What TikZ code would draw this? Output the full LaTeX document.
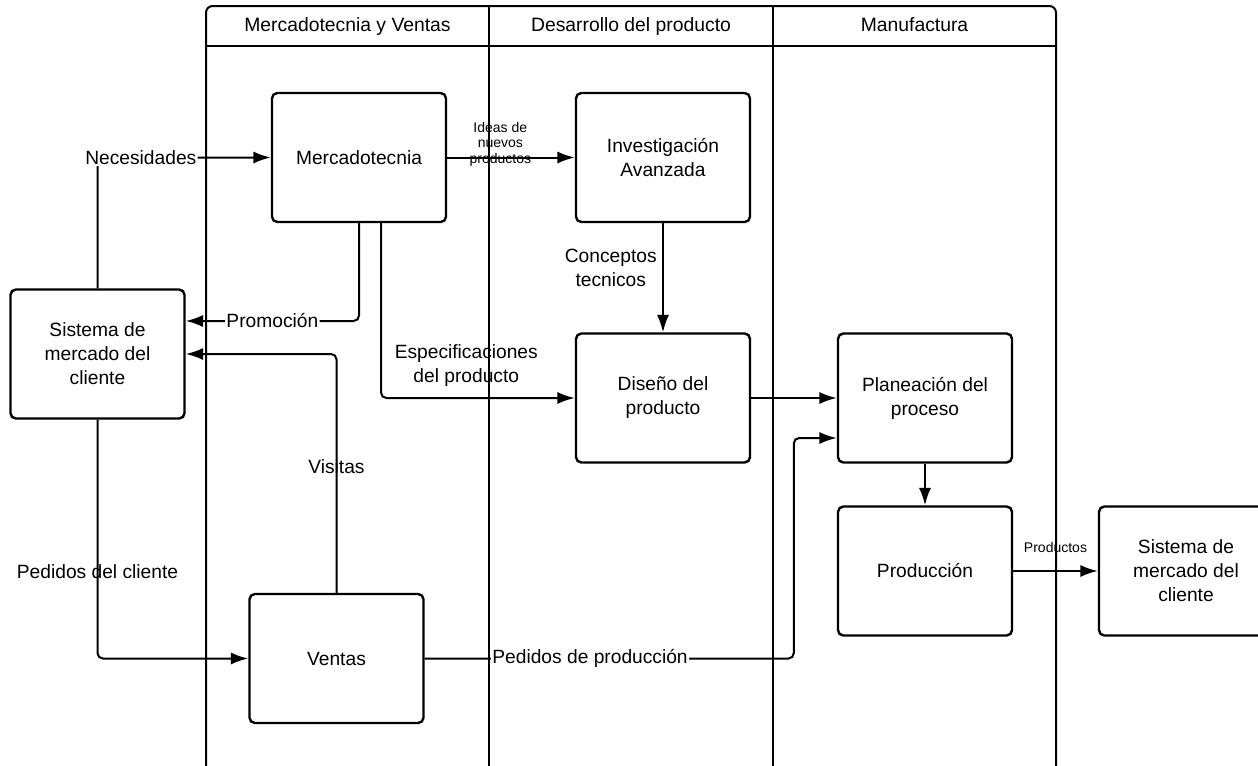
\documentclass[tikz,border=0pt]{standalone}
\usepackage{fontspec}
\setmainfont{Liberation Sans}
\usetikzlibrary{arrows.meta,calc}

\tikzset{every picture/.style={line width=1.5pt}}
\tikzset{
  caja/.style={draw, rounded corners=4pt, minimum width=130.5pt, minimum height=96.75pt, align=center, font=\fontsize{14.4}{18}\selectfont, line width=1.8pt},
  flecha/.style={-{Latex[length=13pt,width=9pt]}, rounded corners=4pt},
  etiq/.style={font=\fontsize{14.4}{18}\selectfont, align=center, inner sep=1pt},
  etiqblanca/.style={etiq, fill=white},
  chica/.style={font=\fontsize{10.5}{11.5}\selectfont, align=center, inner sep=1pt},
  carril/.style={font=\fontsize{14.5}{16}\selectfont, text height=10.5pt, text depth=3pt}
}

\begin{document}
\begin{tikzpicture}[x=0.75pt,y=0.75pt,yscale=-1,xscale=1]
\clip (0,0) rectangle (1258,765);

%Swimlanes
\draw [rounded corners=5pt] (206,775) -- (206,6) -- (1056,6) -- (1056,775) ;
\draw (206,46) -- (1056,46) ;
\draw (489,6) -- (489,775) ;
\draw (773,6) -- (773,775) ;

% Lane titles
\node [carril] (tMerc) at (347.5,26) {Mercadotecnia y Ventas};
\node [carril] (tDes) at (631,26) {Desarrollo del producto};
\node [carril] (tMan) at (914.5,26) {Manufactura};

% Boxes
\node [caja] (merc) at (359,157.5) {Mercadotecnia};
\node [caja] (inv) at (663,157.5) {Investigación\\Avanzada};
\node [caja] (smcL) at (97.5,354) {Sistema de\\mercado del\\cliente};
\node [caja] (dis) at (663,398) {Diseño del\\producto};
\node [caja] (plan) at (925,398) {Planeación del\\proceso};
\node [caja] (prod) at (925,571) {Producción};
\node [caja] (smcR) at (1186,571) {Sistema de\\mercado del\\cliente};
\node [caja] (ventas) at (336.5,658.5) {Ventas};

% Connectors
\draw [flecha] (smcL.north) |- (merc.west) node [pos=0.625, etiqblanca] (lNec) {Necesidades} ;
\draw [flecha] (merc.east) -- (inv.west) node [midway, chica, xshift=-8pt, yshift=10pt] (lIdeas) {Ideas de\\nuevos\\productos} ;
\draw [flecha] (inv.south) -- (dis.north) node [midway, left, etiq, xshift=-3pt, yshift=7.5pt] (lConc) {Conceptos\\tecnicos} ;
\draw [flecha] (merc.south) |- ($(smcL.east)+(0,-33)$) node [pos=0.75, etiqblanca] (lProm) {Promoción} ;
\draw [flecha] ($(merc.south)+(22,0)$) |- (dis.west) node [pos=0.72, anchor=south, etiq, yshift=7pt] (lEsp) {Especificaciones\\del producto} ;
\draw [flecha] (ventas.north) |- (smcL.east) node [pos=0.265, etiq] (lVis) {Visitas} ;
\draw [flecha] (smcL.south) |- (ventas.west) node [pos=0.318, etiq] (lPedCli) {Pedidos del cliente} ;
\coordinate (ppIn) at ($(plan.west)+(0,40)$) ;
\draw [flecha] (ventas.east) -| ($(ppIn)+(-43,0)$) node [pos=0.224, etiqblanca] (lPedProd) {Pedidos de producción} -- (ppIn) ;
\draw [flecha] (dis.east) -- (plan.west) ;
\draw [flecha] (plan.south) -- (prod.north) ;
\draw [flecha] (prod.east) -- (smcR.west) node [midway, above, chica, yshift=12pt] (lProd) {Productos} ;

\end{tikzpicture}
\end{document}
